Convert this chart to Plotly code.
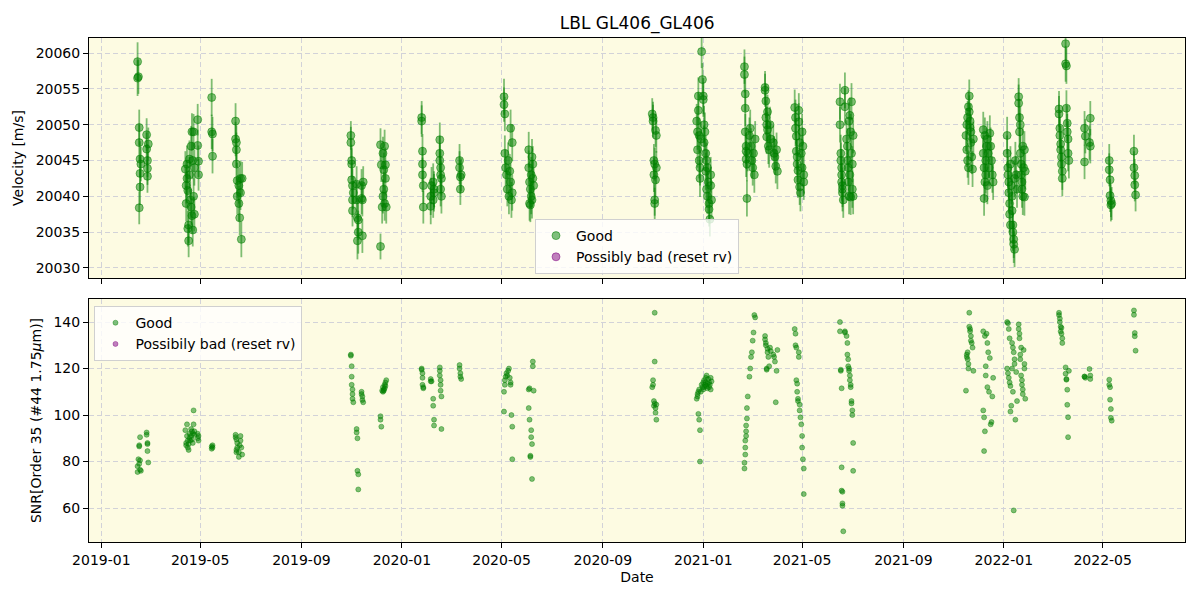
import plotly.graph_objects as go

# ---------------- data ----------------
dates = [
    "2019-02-14","2019-02-14","2019-02-15","2019-02-16","2019-02-16","2019-02-17","2019-02-17","2019-02-17","2019-02-16","2019-02-18","2019-02-25","2019-02-25","2019-02-26","2019-02-26","2019-02-26","2019-02-27",
    "2019-04-13","2019-04-14","2019-04-14","2019-04-15","2019-04-15","2019-04-16","2019-04-16","2019-04-17","2019-04-17","2019-04-18","2019-04-18","2019-04-19","2019-04-20","2019-04-20","2019-04-21","2019-04-21","2019-04-22","2019-04-22","2019-04-23","2019-04-23","2019-04-24","2019-04-24","2019-04-28","2019-04-28","2019-04-29","2019-04-29",
    "2019-05-15","2019-05-15","2019-05-16","2019-05-16",
    "2019-06-13","2019-06-13","2019-06-14","2019-06-14","2019-06-14","2019-06-15","2019-06-15","2019-06-17","2019-06-17","2019-06-18","2019-06-19","2019-06-19","2019-06-20","2019-06-21",
    "2019-10-31","2019-10-31","2019-11-01","2019-11-01","2019-11-01","2019-11-02","2019-11-02","2019-11-02","2019-11-03","2019-11-07","2019-11-07","2019-11-08","2019-11-08","2019-11-09","2019-11-09","2019-11-13","2019-11-13","2019-11-14","2019-11-14","2019-11-15",
    "2019-12-06","2019-12-06","2019-12-07","2019-12-08","2019-12-09","2019-12-09","2019-12-10","2019-12-10","2019-12-11","2019-12-11","2019-12-12","2019-12-12","2019-12-13",
    "2020-01-25","2020-01-25","2020-01-26","2020-01-26","2020-01-26","2020-01-27","2020-01-27","2020-02-05","2020-02-05","2020-02-06","2020-02-08","2020-02-08","2020-02-09","2020-02-09","2020-02-16","2020-02-16","2020-02-16","2020-02-17","2020-02-17","2020-02-17","2020-02-18","2020-02-18",
    "2020-03-11","2020-03-11","2020-03-12","2020-03-12","2020-03-13",
    "2020-05-04","2020-05-04","2020-05-05","2020-05-05","2020-05-06","2020-05-07","2020-05-08","2020-05-09","2020-05-10","2020-05-11","2020-05-12","2020-05-12","2020-05-13","2020-05-14","2020-05-14",
    "2020-06-03","2020-06-03","2020-06-04","2020-06-04","2020-06-05","2020-06-05","2020-06-06","2020-06-06","2020-06-07","2020-06-07","2020-06-08","2020-06-08","2020-06-09",
    "2020-10-31","2020-11-01","2020-11-01","2020-11-02","2020-11-02","2020-11-03","2020-11-03","2020-11-03","2020-11-04","2020-11-04","2020-11-05","2020-11-05",
    "2020-12-24","2020-12-25","2020-12-25","2020-12-26","2020-12-26","2020-12-27","2020-12-27","2020-12-28","2020-12-28","2020-12-29","2020-12-30","2020-12-31","2021-01-01","2021-01-01","2021-01-02","2021-01-02","2021-01-03","2021-01-04","2021-01-04","2021-01-05","2021-01-05","2021-01-06","2021-01-06","2021-01-07","2021-01-08","2021-01-08","2021-01-09","2021-01-10","2021-01-10","2021-01-11",
    "2021-02-20","2021-02-20","2021-02-21","2021-02-21","2021-02-21","2021-02-22","2021-02-22","2021-02-22","2021-02-23","2021-02-23","2021-02-24","2021-02-26","2021-02-27","2021-02-28","2021-03-01","2021-03-02","2021-03-03","2021-03-04","2021-03-05",
    "2021-03-17","2021-03-17","2021-03-18","2021-03-18","2021-03-19","2021-03-19","2021-03-20","2021-03-20","2021-03-21","2021-03-22","2021-03-23","2021-03-24","2021-03-27","2021-03-28","2021-03-29","2021-03-30","2021-03-31","2021-04-01",
    "2021-04-22","2021-04-23","2021-04-23","2021-04-24","2021-04-24","2021-04-25","2021-04-25","2021-04-26","2021-04-26","2021-04-27","2021-04-27","2021-04-28","2021-04-28","2021-04-29","2021-04-30","2021-05-01","2021-05-01","2021-05-02","2021-05-03","2021-05-03",
    "2021-06-16","2021-06-16","2021-06-17","2021-06-17","2021-06-18","2021-06-18","2021-06-18","2021-06-19","2021-06-19","2021-06-19","2021-06-20","2021-06-22","2021-06-22","2021-06-24","2021-06-25","2021-06-25","2021-06-26","2021-06-26","2021-06-27","2021-06-27","2021-06-28","2021-06-28","2021-06-29","2021-06-29","2021-06-30","2021-06-30","2021-07-01","2021-07-01","2021-07-02","2021-07-02",
    "2021-11-16","2021-11-17","2021-11-17","2021-11-18","2021-11-18","2021-11-19","2021-11-19","2021-11-20","2021-11-20","2021-11-21","2021-11-21","2021-11-22","2021-11-22","2021-11-23","2021-11-24","2021-11-25",
    "2021-12-07","2021-12-07","2021-12-08","2021-12-08","2021-12-09","2021-12-09","2021-12-10","2021-12-10","2021-12-11","2021-12-12","2021-12-12","2021-12-13","2021-12-14","2021-12-15","2021-12-16","2021-12-17","2021-12-18","2021-12-19",
    "2022-01-05","2022-01-05","2022-01-06","2022-01-06","2022-01-07","2022-01-07","2022-01-08","2022-01-08","2022-01-09","2022-01-09","2022-01-10","2022-01-11","2022-01-11","2022-01-12","2022-01-12","2022-01-13","2022-01-13","2022-01-14","2022-01-14","2022-01-15","2022-01-16","2022-01-17","2022-01-19","2022-01-19","2022-01-20","2022-01-20","2022-01-21","2022-01-21","2022-01-22","2022-01-22","2022-01-23","2022-01-23","2022-01-24","2022-01-24","2022-01-25","2022-01-26","2022-01-26","2022-01-27",
    "2022-03-09","2022-03-09","2022-03-10","2022-03-10","2022-03-11","2022-03-11","2022-03-12","2022-03-12","2022-03-13","2022-03-13","2022-03-17","2022-03-17","2022-03-18","2022-03-18","2022-03-19","2022-03-19","2022-03-20","2022-03-20","2022-03-21",
    "2022-04-09","2022-04-09","2022-04-10","2022-04-15","2022-04-16","2022-04-16",
    "2022-05-09","2022-05-09","2022-05-10","2022-05-10","2022-05-11","2022-05-11","2022-05-12",
    "2022-06-08","2022-06-08","2022-06-09","2022-06-09","2022-06-10",
]

rv = [
    20058.8,20056.5,20056.7,20049.6,20047.5,20045.2,20043.2,20041.3,20038.4,20044.5,20048.6,20046.6,20045.0,20043.9,20042.8,20047.3,
    20043.8,20041.5,20039.0,20044.5,20042.5,20040.8,20035.5,20033.8,20036.0,20045.2,20043.0,20039.5,20047.0,20038.5,20049.0,20037.3,20045.0,20035.3,20049.0,20040.0,20037.5,20044.0,20050.7,20047.1,20044.9,20043.0,
    20053.8,20049.0,20048.7,20045.6,
    20050.5,20048.0,20047.5,20046.5,20044.5,20042.2,20040.0,20041.5,20039.0,20037.0,20042.5,20040.5,20034.0,20042.5,
    20048.5,20047.5,20045.0,20044.5,20042.3,20041.5,20039.5,20038.0,20040.5,20041.7,20039.5,20037.0,20033.8,20036.7,20035.0,20041.5,20039.7,20034.5,20039.5,20042.0,
    20047.2,20033.0,20044.4,20038.5,20046.0,20040.0,20043.7,20041.0,20047.0,20039.0,20044.4,20042.5,20038.5,
    20051.0,20050.5,20046.3,20044.5,20043.0,20041.5,20038.5,20040.0,20038.6,20041.5,20042.0,20039.5,20040.5,20041.0,20047.9,20046.0,20045.0,20044.0,20043.0,20041.0,20040.0,20042.5,
    20045.0,20044.0,20042.7,20041.0,20043.0,
    20053.9,20052.8,20051.5,20046.0,20044.0,20043.0,20041.0,20045.0,20040.0,20043.5,20049.5,20042.0,20039.5,20047.5,20040.5,
    20046.5,20044.0,20042.0,20039.0,20041.0,20038.8,20043.0,20040.0,20045.5,20039.5,20044.5,20042.5,20041.5,
    20051.5,20051.0,20050.5,20045.0,20043.0,20039.5,20039.0,20044.5,20042.3,20049.2,20048.5,20044.0,
    20050.5,20049.0,20046.5,20054.0,20052.0,20048.5,20045.0,20044.0,20042.5,20048.0,20060.2,20056.3,20054.0,20053.5,20050.0,20047.5,20049.0,20046.0,20043.5,20045.0,20041.0,20044.0,20040.0,20042.0,20039.0,20038.2,20036.8,20041.5,20043.0,20039.5,
    20058.1,20057.0,20054.3,20052.3,20049.0,20047.0,20046.3,20045.2,20044.5,20039.7,20046.0,20048.5,20049.5,20047.0,20045.0,20044.0,20046.0,20043.0,20048.0,
    20055.2,20054.8,20053.3,20051.0,20050.0,20048.3,20051.8,20049.3,20047.0,20046.5,20050.0,20048.0,20047.5,20046.0,20045.5,20044.2,20046.5,20043.5,
    20052.4,20051.0,20049.5,20048.4,20046.3,20045.5,20044.5,20043.6,20042.3,20052.0,20050.4,20047.5,20041.3,20040.5,20046.0,20049.0,20044.0,20047.0,20042.0,20043.0,
    20053.2,20050.0,20046.0,20045.0,20044.0,20043.0,20042.0,20041.5,20041.0,20040.5,20039.5,20054.8,20052.5,20048.0,20047.0,20045.0,20044.0,20042.0,20050.5,20040.0,20051.3,20043.0,20049.0,20039.9,20053.2,20046.0,20044.5,20041.0,20048.5,20040.0,
    20048.5,20050.0,20046.5,20051.0,20045.0,20052.5,20044.0,20054.0,20051.8,20050.5,20049.6,20049.0,20047.5,20045.5,20043.8,20048.0,
    20049.3,20046.0,20044.0,20039.7,20042.0,20048.5,20045.0,20043.0,20047.0,20041.5,20048.0,20046.0,20044.0,20048.8,20047.0,20045.0,20043.0,20042.0,
    20048.5,20046.0,20044.0,20043.0,20042.0,20040.5,20039.0,20037.5,20036.0,20044.5,20041.5,20040.0,20038.0,20036.0,20035.0,20034.0,20033.3,20032.6,20042.5,20045.0,20043.0,20041.0,20053.9,20053.0,20051.0,20049.0,20050.0,20046.0,20044.5,20043.0,20042.0,20041.0,20040.0,20047.0,20044.0,20039.9,20046.5,20043.5,
    20052.2,20051.5,20049.5,20048.5,20047.3,20046.5,20045.5,20044.5,20043.5,20042.5,20061.3,20058.5,20058.2,20052.3,20050.2,20049.0,20048.0,20046.0,20045.0,
    20049.5,20044.8,20048.4,20047.5,20050.9,20047.0,
    20045.0,20043.7,20042.3,20040.1,20039.4,20038.8,20039.0,
    20046.3,20044.0,20042.9,20041.6,20040.2,
]

rv_err = [
    2.7,2.5,2.4,2.5,2.5,2.5,2.4,2.5,2.3,2.4,2.3,2.3,2.3,2.3,2.3,2.3,
    2.5,2.5,2.5,2.6,2.5,2.5,2.5,2.3,2.5,2.6,2.5,2.6,2.8,2.5,2.6,2.5,2.6,2.3,2.5,2.5,2.4,2.5,2.2,2.2,2.2,2.2,
    2.6,2.4,2.4,2.4,
    2.5,2.4,2.4,2.4,2.5,2.5,2.5,2.5,2.5,2.4,2.5,2.4,2.5,2.3,
    2.0,2.2,2.2,2.2,2.4,2.4,2.4,2.2,2.3,2.5,2.6,2.8,2.6,2.8,3.0,2.3,2.2,2.4,2.3,2.2,
    2.3,1.8,2.4,2.3,2.3,2.4,2.4,2.4,2.3,2.4,2.4,2.4,2.3,
    2.3,2.2,2.4,2.4,2.4,2.5,2.3,2.6,2.5,2.6,2.6,2.5,2.6,2.5,2.4,2.4,2.4,2.4,2.5,2.4,2.4,2.4,
    2.3,2.3,2.3,2.2,2.3,
    2.5,2.4,2.4,2.5,2.5,2.5,2.4,2.5,2.5,2.4,2.6,2.5,2.5,2.6,2.5,
    2.5,2.4,2.5,2.4,2.6,2.4,2.5,2.5,2.5,2.6,2.5,2.5,2.5,
    2.2,2.2,2.3,2.3,2.4,2.2,2.2,2.3,2.4,2.3,2.4,2.3,
    2.4,2.5,2.5,2.6,2.5,2.4,2.5,2.5,2.6,2.4,2.3,2.3,2.5,2.4,2.6,2.4,2.7,2.5,2.6,2.5,2.6,2.5,2.5,2.6,2.5,2.4,2.4,2.6,2.5,2.5,
    2.4,2.5,2.4,2.5,2.5,2.5,2.5,2.5,2.4,2.5,2.5,2.5,2.6,2.5,2.5,2.5,2.6,2.5,2.5,
    2.3,2.3,2.4,2.4,2.5,2.4,2.4,2.5,2.5,2.5,2.5,2.4,2.4,2.4,2.5,2.4,2.4,2.5,
    2.5,2.5,2.5,2.5,2.6,2.5,2.5,2.6,2.5,2.4,2.6,2.5,2.5,2.6,2.5,2.5,2.6,2.5,2.5,2.6,
    2.5,2.5,2.6,2.5,2.6,2.5,2.6,2.5,2.5,2.6,2.5,2.5,2.6,2.6,2.5,2.6,2.5,2.6,2.6,2.5,2.5,2.6,2.5,2.5,2.6,2.5,2.5,2.6,2.5,2.5,
    2.2,2.3,2.4,2.3,2.4,2.3,2.4,2.3,2.3,2.4,2.4,2.4,2.5,2.4,2.5,2.4,
    2.5,2.6,2.5,2.4,2.6,2.5,2.5,2.6,2.5,2.6,2.5,2.5,2.6,2.5,2.6,2.5,2.5,2.5,
    2.6,2.5,2.6,2.5,2.6,2.5,2.6,2.5,2.6,2.5,2.6,2.6,2.6,2.6,2.6,2.6,2.6,2.5,2.6,2.6,2.6,2.6,2.6,2.6,2.6,2.6,2.5,2.6,2.6,2.6,2.6,2.6,2.6,2.5,2.6,2.6,2.6,2.5,
    2.5,2.5,2.5,2.6,2.5,2.5,2.5,2.5,2.6,2.5,2.4,2.5,2.5,2.5,2.5,2.5,2.5,2.5,2.5,
    2.4,2.4,2.4,2.4,2.4,2.4,
    2.3,2.3,2.3,2.3,2.3,2.3,2.3,
    2.3,2.3,2.3,2.3,2.3,
]

snr = [
    75.5,78,81,86.5,87,90.5,80.5,76.5,79,76,92.5,91.5,87.5,88,84.5,79.6,
    93.5,88,87,96,91,89,86,85,87.5,92,90,89,94,91,93,89.5,92,88,102,96,93,91.5,92,90,89,91,
    86.5,85.5,87,86,
    91.5,90.5,89.5,85,84,88,86,84,82,87,91,89,86,83,
    126,125.5,121,116.5,113,111,109,107,105.5,94,92.5,90,76,74.5,68,110,109,108,106.5,105.5,
    99.5,98,95,110.5,110,112,111,110.5,113,111.5,114,112.5,115,
    120,119.5,118,116,113,112,111.5,114.5,115.5,114.5,107,104,98,95.5,120.5,119,117,115,113,110.5,108,94,
    121.5,120,118,116.5,115.5,
    110,101.5,113,115,116.5,118,117,119,120,116,114,113,100,95,81,
    111,103,98,111.5,82.5,82,93.5,90.5,87.5,72.5,123,121,110.5,
    112,113,115,106,104,144,123,105,103,101,98,104.5,
    107,108,109,110,100.5,111,98,93.5,80,110,113,112,111,114,112,115,113,116,114,112.5,117,111.5,113.5,115.5,112,114,113,116,111,114.5,
    77,79.5,83,86,89,91,93,95.5,98.5,103,108,116.5,120,125,127,132,135.5,143,142,
    134,132.5,131,130,120,119.5,128.5,127,125,121,129,127.5,126,125,123,105.5,119,128,
    137,135,130,129,115,113.5,110,107,106,127,125,104.5,102,99,96,91,86,81,77,66,
    140,136,119.5,119,111.5,77.5,67.5,67,62,61,50,136,135.5,134,131,126,124,121,120,119,117,115,113,112,106,105,102,100,88,76,
    110.5,126,125,127,124,122,120,144,138,137,136,134,132,131,129,119,
    136,102,99,84.5,93,134,121,117,135,112,131,127,110,124.5,96,97,108,116,
    140,120,118,139.5,137,116,133,114,101.5,112.5,104,131,120,110,129,127,59,124,122,98,118.5,106,139,137,135,133,126,124,129,117,115,113,111,109,128,122,120,107,
    144,143,141.5,140,138,136,135,137.5,133,131,120.5,117.8,115.2,115.5,110.9,104.4,99.1,90.5,119,
    116.6,116.5,116,119.8,117,115.5,
    115.2,113,112,106.6,102.6,98.8,97.6,
    145,143.1,135.3,133.9,127.7,
]

# "Possibly bad (reset rv)" points: none are visible in the reference
bad_dates = [None]
bad_rv = [None]
bad_rv_err = [None]
bad_snr = [None]

if not (len(dates) == len(rv) == len(rv_err) == len(snr)):
    raise ValueError(f"length mismatch {len(dates)} {len(rv)} {len(rv_err)} {len(snr)}")

title_text = "LBL GL406_GL406"
x_range = ["2018-12-17", "2022-08-09"]

# ---------------- styling ----------------
FONT = "DejaVu Sans"
GOOD = "rgba(0,128,0,0.5)"
BAD = "rgba(128,0,128,0.5)"
BG = "#FDFBE2"
GRID = "#d2d2d8"
FS = 14

fig = go.Figure()

fig.add_trace(go.Scatter(
    x=dates, y=rv, mode="markers", name="Good",
    error_y=dict(type="data", array=rv_err, visible=True, color=GOOD, thickness=1.8, width=0),
    marker=dict(size=8, color=GOOD, line=dict(color=GOOD, width=1)),
    xaxis="x", yaxis="y", legend="legend", showlegend=True,
))
fig.add_trace(go.Scatter(
    x=bad_dates, y=bad_rv, mode="markers", name="Possibly bad (reset rv)",
    error_y=dict(type="data", array=bad_rv_err, visible=True, color=BAD, thickness=1.8, width=0),
    marker=dict(size=8, color=BAD, line=dict(color=BAD, width=1)),
    xaxis="x", yaxis="y", legend="legend", showlegend=True,
))
fig.add_trace(go.Scatter(
    x=dates, y=snr, mode="markers", name="Good",
    marker=dict(size=5, color=GOOD, line=dict(color=GOOD, width=0.8)),
    xaxis="x2", yaxis="y2", legend="legend2", showlegend=True,
))
fig.add_trace(go.Scatter(
    x=bad_dates, y=bad_snr, mode="markers", name="Possibily bad (reset rv)",
    marker=dict(size=5, color=BAD, line=dict(color=BAD, width=0.8)),
    xaxis="x2", yaxis="y2", legend="legend2", showlegend=True,
))

axis_common = dict(
    showline=True, linecolor="black", linewidth=1, mirror=True,
    ticks="outside", ticklen=5, tickwidth=1, tickcolor="black",
    showgrid=True, gridcolor=GRID, griddash="5px,3px", gridwidth=1,
    zeroline=False, tickfont=dict(family=FONT, size=FS, color="black"),
)

fig.update_layout(
    width=1200, height=600,
    showlegend=True,
    paper_bgcolor="white", plot_bgcolor=BG,
    margin=dict(l=89, r=15, t=38, b=58),
    font=dict(family=FONT, size=FS, color="black"),
    title=dict(text=title_text, x=0.531, xref="container", xanchor="center",
               y=1 - 23 / 600, yanchor="middle",
               font=dict(family=FONT, size=17, color="black")),
    xaxis=dict(domain=[0, 1], anchor="y", type="date", range=x_range,
               tick0="2019-01-01", dtick="M4", tickformat="%Y-%m",
               showticklabels=False, **axis_common),
    xaxis2=dict(domain=[0, 1], anchor="y2", type="date", range=x_range, matches="x",
                tick0="2019-01-01", dtick="M4", tickformat="%Y-%m",
                title=dict(text="Date", font=dict(family=FONT, size=FS), standoff=5),
                **axis_common),
    yaxis=dict(domain=[0.5238, 1], anchor="x", range=[20028.6, 20062.1],
               tick0=20030, dtick=5, tickformat="d",
               title=dict(text="Velocity [m/s]", font=dict(family=FONT, size=FS), standoff=8),
               **axis_common),
    yaxis2=dict(domain=[0, 0.4821], anchor="x2", range=[45.4, 149.9],
                tick0=0, dtick=20, tickformat="d",
                title=dict(text="SNR[Order 35 (#44 1.75<i>μ</i>m)]", font=dict(family=FONT, size=FS), standoff=8),
                **axis_common),
    legend=dict(x=0.5, xanchor="center", y=0.5317, yanchor="bottom",
                bgcolor="rgba(255,255,255,0.8)", bordercolor="#d0d0d0", borderwidth=1,
                font=dict(family=FONT, size=FS, color="black")),
    legend2=dict(x=0.005, xanchor="left", y=0.468, yanchor="top",
                 bgcolor="rgba(255,255,255,0.8)", bordercolor="#d0d0d0", borderwidth=1,
                 font=dict(family=FONT, size=FS, color="black")),
)

fig.write_html("out.html")
